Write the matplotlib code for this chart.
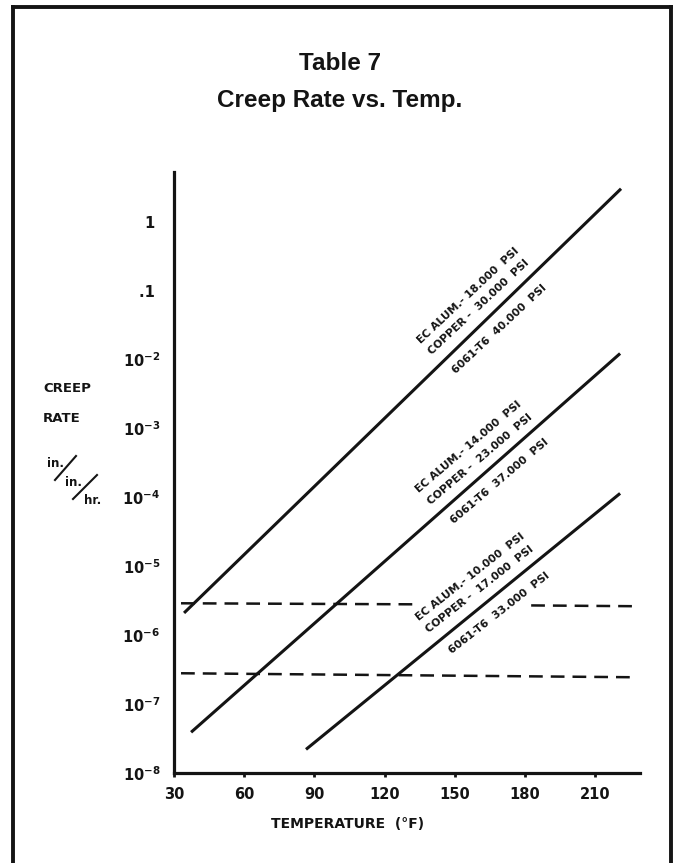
import numpy as np
import matplotlib
matplotlib.use('Agg')
import matplotlib.pyplot as plt
from matplotlib.lines import Line2D
from matplotlib.ticker import NullLocator

plt.rcParams['mathtext.default'] = 'bf'
plt.rcParams['font.family'] = ['DejaVu Sans']

# ---------------- data ----------------
temp_ticks = [30, 60, 90, 120, 150, 180, 210]
rate_ticks = [1, 0.1, 1e-2, 1e-3, 1e-4, 1e-5, 1e-6, 1e-7, 1e-8]
rate_tick_labels = ['1 ', '.1 ', r'$10^{-2}$', r'$10^{-3}$', r'$10^{-4}$',
                    r'$10^{-5}$', r'$10^{-6}$', r'$10^{-7}$', r'$10^{-8}$']

# creep-rate lines (temperature °F, creep rate in./in./hr.)
high_temp = [34.3, 221.0]
high_rate = [2.1e-6, 3.0]
mid_temp = [37.3, 220.6]
mid_rate = [3.9e-8, 1.22e-2]
low_temp = [86.4, 220.6]
low_rate = [2.2e-8, 1.14e-4]

# dashed reference levels
upper_dash_a_temp = [33.0, 134.7]
upper_dash_a_rate = [2.9e-6, 2.8e-6]
upper_dash_b_temp = [182.6, 226.6]
upper_dash_b_rate = [2.7e-6, 2.63e-6]
lower_dash_temp = [33.0, 226.6]
lower_dash_rate = [2.8e-7, 2.45e-7]

# stress labels for each line (high, mid, low)
ec_alum_psi = ['18.000', '14.000', '10.000']
copper_psi = ['30.000', '23.000', '17.000']
t6_psi = ['40.000', '37.000', '33.000']

# ---------------- figure ----------------
W, H = 680, 863
fig = plt.figure(figsize=(W / 100, H / 100), dpi=100)
ax = fig.add_axes([174 / W, 90 / H, 466 / W, 601 / H])
ax.set_yscale('log')
ax.set_xlim(30, 229.1)
ax.set_ylim(1e-8, 10 ** 0.72)

ink = '#141414'
for s in ['top', 'right']:
    ax.spines[s].set_visible(False)
for s in ['left', 'bottom']:
    ax.spines[s].set_linewidth(2.3)
    ax.spines[s].set_color(ink)

ax.set_xticks(temp_ticks)
ax.set_xticklabels([str(t) for t in temp_ticks], fontweight='bold')
ax.tick_params(axis='x', direction='out', length=3, width=2, pad=7,
               labelsize=10.5, colors=ink)
ax.set_yticks(rate_ticks)
ax.set_yticklabels(rate_tick_labels, fontweight='bold')
ax.yaxis.set_minor_locator(NullLocator())
ax.tick_params(axis='y', length=0, pad=10, labelsize=10.5, colors=ink)

lines = [(high_temp, high_rate), (mid_temp, mid_rate), (low_temp, low_rate)]
for t, r in lines:
    ax.plot(t, r, color=ink, lw=2.2, solid_capstyle='butt')

dash = (0, (5.5, 3.2))
ax.plot(upper_dash_a_temp, upper_dash_a_rate, color=ink, lw=1.8, ls=dash)
ax.plot(upper_dash_b_temp, upper_dash_b_rate, color=ink, lw=1.8, ls=dash)
ax.plot(lower_dash_temp, lower_dash_rate, color=ink, lw=1.8, ls=dash)

# labels along the lines
label_offsets = [21.5, 10.0, -11.5]
center_temp = 164.5
for (t, r), ec, cu, t6 in zip(lines, ec_alum_psi, copper_psi, t6_psi):
    texts = [f'EC ALUM.- {ec}  PSI', f'COPPER -  {cu}  PSI', f'6061-T6  {t6}  PSI']
    yc = 10 ** np.interp(center_temp, t, np.log10(r))
    p0 = ax.transData.transform((t[0], r[0]))
    p1 = ax.transData.transform((t[1], r[1]))
    ang = np.degrees(np.arctan2(p1[1] - p0[1], p1[0] - p0[0]))
    a = np.radians(ang)
    for txt, off in zip(texts, label_offsets):
        ax.annotate(txt, xy=(center_temp, yc),
                    xytext=(-np.sin(a) * off, np.cos(a) * off),
                    textcoords='offset points', rotation=ang - 1,
                    rotation_mode='anchor', ha='center', va='center',
                    fontsize=7.8, fontweight='bold', color=ink)

def fx(x):
    return x / W

def fy(y):
    return 1 - y / H

# titles
fig.text(fx(340), fy(64), 'Table 7', ha='center', va='center', fontsize=17.5,
         fontweight='bold', family='Liberation Sans', color=ink)
fig.text(fx(340), fy(101), 'Creep Rate vs. Temp.', ha='center', va='center',
         fontsize=17.5, fontweight='bold', family='Liberation Sans', color=ink)

# axis titles
fig.text(fx(348), fy(824), 'TEMPERATURE  (°F)', ha='center', va='center',
         fontsize=10, fontweight='bold', color=ink)
fig.text(fx(43), fy(388), 'CREEP', ha='left', va='center', fontsize=9.5,
         fontweight='bold', color=ink)
fig.text(fx(43), fy(418), 'RATE', ha='left', va='center', fontsize=9.5,
         fontweight='bold', color=ink)
fig.text(fx(55), fy(463), 'in.', ha='center', va='center', fontsize=8.5,
         fontweight='bold', color=ink)
fig.text(fx(73), fy(482), 'in.', ha='center', va='center', fontsize=8.5,
         fontweight='bold', color=ink)
fig.text(fx(93), fy(500), 'hr.', ha='center', va='center', fontsize=8.5,
         fontweight='bold', color=ink)
fig.add_artist(Line2D([fx(55), fx(76)], [fy(480), fy(456)], transform=fig.transFigure,
                      lw=1.5, color=ink))
fig.add_artist(Line2D([fx(73), fx(97)], [fy(499), fy(475)], transform=fig.transFigure,
                      lw=1.5, color=ink))

# border frame
for xs, ys in [([fx(13), fx(13)], [0, fy(7)]),
               ([fx(13), fx(671)], [fy(7.5), fy(7.5)]),
               ([fx(671), fx(671)], [fy(7), 0])]:
    fig.add_artist(Line2D(xs, ys, transform=fig.transFigure, lw=2.8, color=ink,
                          solid_capstyle='projecting'))

fig.savefig('out.png', dpi=100)
